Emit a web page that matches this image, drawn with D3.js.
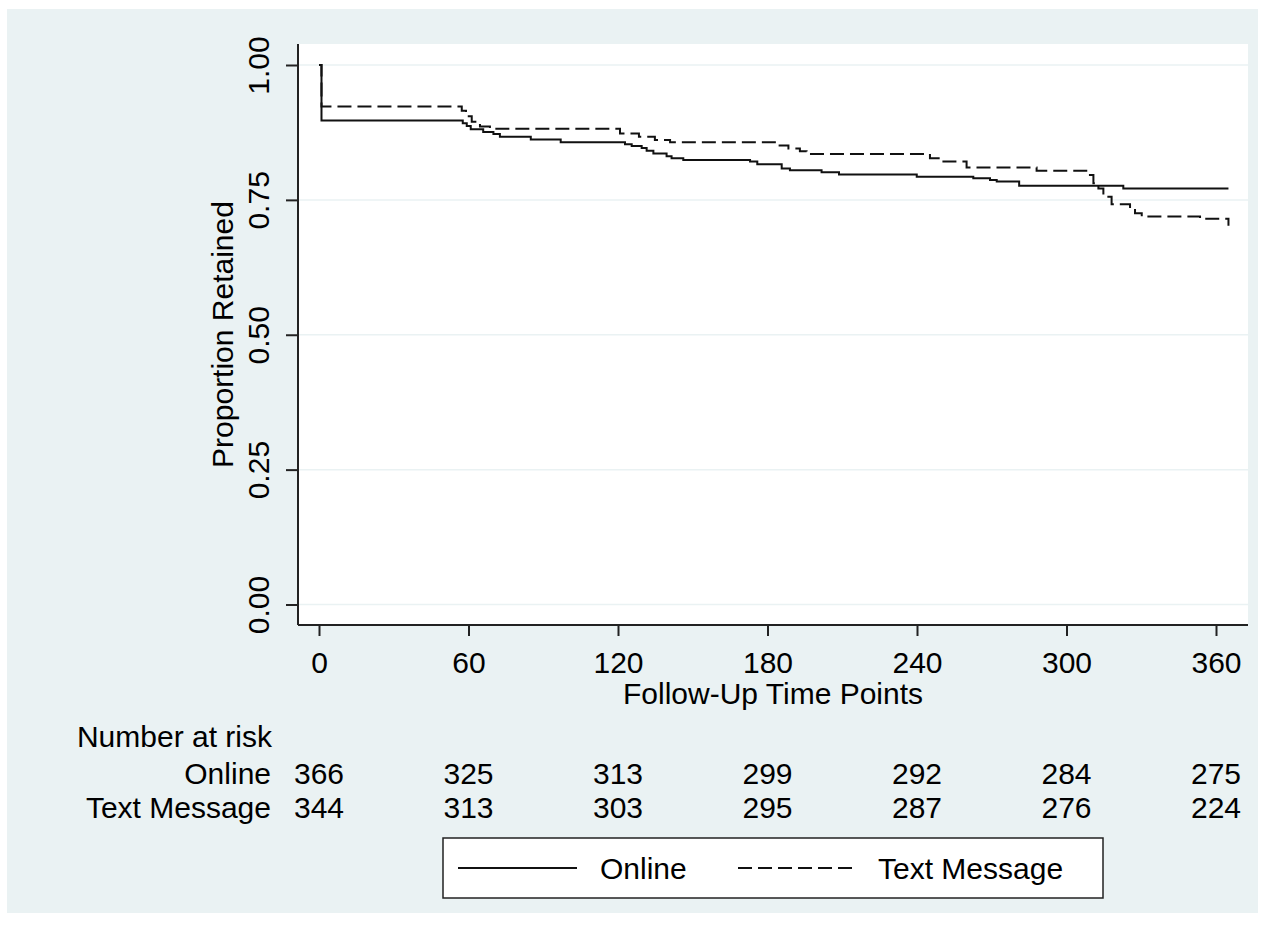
<!DOCTYPE html>
<html>
<head>
<meta charset="utf-8">
<script src="https://cdn.jsdelivr.net/npm/d3@7"></script>
<style>
    body { margin: 0; background: #ffffff; }
    text { font-family: Arial, "Liberation Sans", sans-serif; fill: #000; }
</style>
</head>
<body>
<div id="chart"></div>
<script>

// Kaplan-Meier steps (days, proportion retained)
const onlineTimes = [0, 1, 57.7, 59.3, 60.9, 65.9, 70, 72.6, 85, 97, 122.8, 125.5, 129.5, 131.5, 134.2, 139.5, 141.5, 146.2, 173, 175.9, 185.7, 189, 201.7, 208.7, 239.9, 262.6, 269.3, 272, 281, 322.8, 365];
const onlineSurv = [1, 0.897, 0.892, 0.887, 0.881, 0.876, 0.872, 0.867, 0.862, 0.857, 0.853, 0.850, 0.846, 0.841, 0.836, 0.831, 0.827, 0.824, 0.821, 0.816, 0.808, 0.805, 0.801, 0.797, 0.793, 0.790, 0.787, 0.784, 0.776, 0.771, 0.771];

const textTimes = [0, 1, 57.3, 59, 61.3, 64.6, 68.6, 120.8, 128.4, 134.8, 140.9, 183.7, 188.4, 193, 195.7, 245.2, 249.9, 259.9, 288, 308.8, 310.8, 312.8, 314.8, 318.1, 325.5, 327.5, 330.2, 353.6, 365];
const textSurv = [1, 0.923, 0.915, 0.905, 0.895, 0.886, 0.882, 0.873, 0.867, 0.861, 0.857, 0.851, 0.845, 0.840, 0.835, 0.827, 0.821, 0.810, 0.804, 0.796, 0.781, 0.771, 0.756, 0.742, 0.734, 0.725, 0.719, 0.715, 0.702];

const xTicks = [0, 60, 120, 180, 240, 300, 360];
const yTicks = [0, 0.25, 0.5, 0.75, 1];
const yTickLabels = ["0.00", "0.25", "0.50", "0.75", "1.00"];

const groupNames = ["Online", "Text Message"];
const riskOnline = [366, 325, 313, 299, 292, 284, 275];
const riskText = [344, 313, 303, 295, 287, 276, 224];


const W = 1281, H = 938;
const plot = { left: 298, right: 1248, top: 44, bottom: 625 };
const bg = "#eaf2f3";
const fontSize = 30;


var svg = d3.select("#chart")
    .append("svg")
    .attr("width", W)
    .attr("height", H);

// outer graph region
svg.append("rect")
    .attr("x", 7)
    .attr("y", 9)
    .attr("width", 1258 - 7)
    .attr("height", 913 - 9)
    .attr("fill", bg);

// plot region
svg.append("rect")
    .attr("x", plot.left)
    .attr("y", plot.top)
    .attr("width", plot.right - plot.left)
    .attr("height", plot.bottom - plot.top)
    .attr("fill", "#ffffff");


const x = d3.scaleLinear().domain([0, 360]).range([319, 1216]);
const y = d3.scaleLinear().domain([0, 1]).range([604.5, 65]);


// grid lines
svg.append("g")
    .selectAll("line")
    .data(yTicks)
    .enter()
    .append("line")
    .attr("x1", plot.left)
    .attr("x2", plot.right)
    .attr("y1", d => y(d))
    .attr("y2", d => y(d))
    .attr("stroke", bg)
    .attr("stroke-width", 1.5);


// x axis
const xAxisG = svg.append("g")
    .attr("transform", "translate(0," + plot.bottom + ")")
    .call(d3.axisBottom(x).tickValues(xTicks).tickSize(11).tickFormat(d3.format("d")));

xAxisG.select(".domain").remove();
xAxisG.selectAll(".tick line").attr("stroke", "#222").attr("stroke-width", 2);
xAxisG.selectAll(".tick text")
    .attr("y", 48)
    .attr("dy", 0)
    .style("font-size", fontSize + "px")
    .style("font-family", "Arial, 'Liberation Sans', sans-serif")
    .attr("fill", "#000");


// y axis, labels turned like Stata does
const yAxisG = svg.append("g")
    .attr("transform", "translate(" + plot.left + ",0)")
    .call(d3.axisLeft(y).tickValues(yTicks).tickSize(12).tickFormat((d, i) => yTickLabels[i]));

yAxisG.select(".domain").remove();
yAxisG.selectAll(".tick line").attr("stroke", "#222").attr("stroke-width", 2);
yAxisG.selectAll(".tick text")
    .attr("x", 0)
    .attr("y", -29)
    .attr("dy", 0)
    .attr("text-anchor", "middle")
    .attr("transform", "rotate(-90)")
    .style("font-size", fontSize + "px")
    .style("font-family", "Arial, 'Liberation Sans', sans-serif")
    .attr("fill", "#000");


// axis lines
svg.append("line")
    .attr("x1", plot.left).attr("x2", plot.left)
    .attr("y1", plot.top).attr("y2", plot.bottom)
    .attr("stroke", "#222").attr("stroke-width", 2);

svg.append("line")
    .attr("x1", plot.left).attr("x2", plot.right)
    .attr("y1", plot.bottom).attr("y2", plot.bottom)
    .attr("stroke", "#222").attr("stroke-width", 2);


// axis titles
svg.append("text")
    .attr("x", (plot.left + plot.right) / 2)
    .attr("y", 704)
    .attr("text-anchor", "middle")
    .style("font-size", fontSize + "px")
    .text("Follow-Up Time Points");

svg.append("text")
    .attr("transform", "translate(233," + (plot.top + plot.bottom) / 2 + ") rotate(-90)")
    .attr("text-anchor", "middle")
    .style("font-size", fontSize + "px")
    .text("Proportion Retained");


// survival curves
const line = d3.line()
    .x(d => x(d[0]))
    .y(d => y(d[1]))
    .curve(d3.curveStepAfter);

const onlineData = onlineTimes.map((t, i) => [t, onlineSurv[i]]);
const textData = textTimes.map((t, i) => [t, textSurv[i]]);

svg.append("path")
    .datum(textData)
    .attr("d", line)
    .attr("fill", "none")
    .attr("stroke", "#111")
    .attr("stroke-width", 2)
    .attr("stroke-dasharray", "14,6");

svg.append("path")
    .datum(onlineData)
    .attr("d", line)
    .attr("fill", "none")
    .attr("stroke", "#111")
    .attr("stroke-width", 2);


// number at risk table
svg.append("text")
    .attr("x", 272)
    .attr("y", 747)
    .attr("text-anchor", "end")
    .style("font-size", fontSize + "px")
    .text("Number at risk");

const riskRows = [riskOnline, riskText];
const rowY = [784, 818];

riskRows.forEach(function (row, r) {

    svg.append("text")
        .attr("x", 271)
        .attr("y", rowY[r])
        .attr("text-anchor", "end")
        .style("font-size", fontSize + "px")
        .text(groupNames[r]);

    svg.append("g")
        .selectAll("text")
        .data(row)
        .enter()
        .append("text")
        .attr("x", (d, i) => x(xTicks[i]))
        .attr("y", rowY[r])
        .attr("text-anchor", "middle")
        .style("font-size", fontSize + "px")
        .text(d => d);
});


// legend
const legend = svg.append("g");

legend.append("rect")
    .attr("x", 443)
    .attr("y", 838)
    .attr("width", 1103 - 443)
    .attr("height", 898 - 838)
    .attr("fill", "#ffffff")
    .attr("stroke", "#222")
    .attr("stroke-width", 1.5);

const legendItems = [
    { name: groupNames[0], x1: 458, x2: 577, tx: 600, dash: null },
    { name: groupNames[1], x1: 738, x2: 858, tx: 878, dash: "14,6" }
];

legendItems.forEach(function (d) {
    legend.append("line")
        .attr("x1", d.x1).attr("x2", d.x2)
        .attr("y1", 868).attr("y2", 868)
        .attr("stroke", "#111")
        .attr("stroke-width", 2)
        .attr("stroke-dasharray", d.dash);

    legend.append("text")
        .attr("x", d.tx)
        .attr("y", 879)
        .style("font-size", fontSize + "px")
        .text(d.name);
});

</script>
</body>
</html>
